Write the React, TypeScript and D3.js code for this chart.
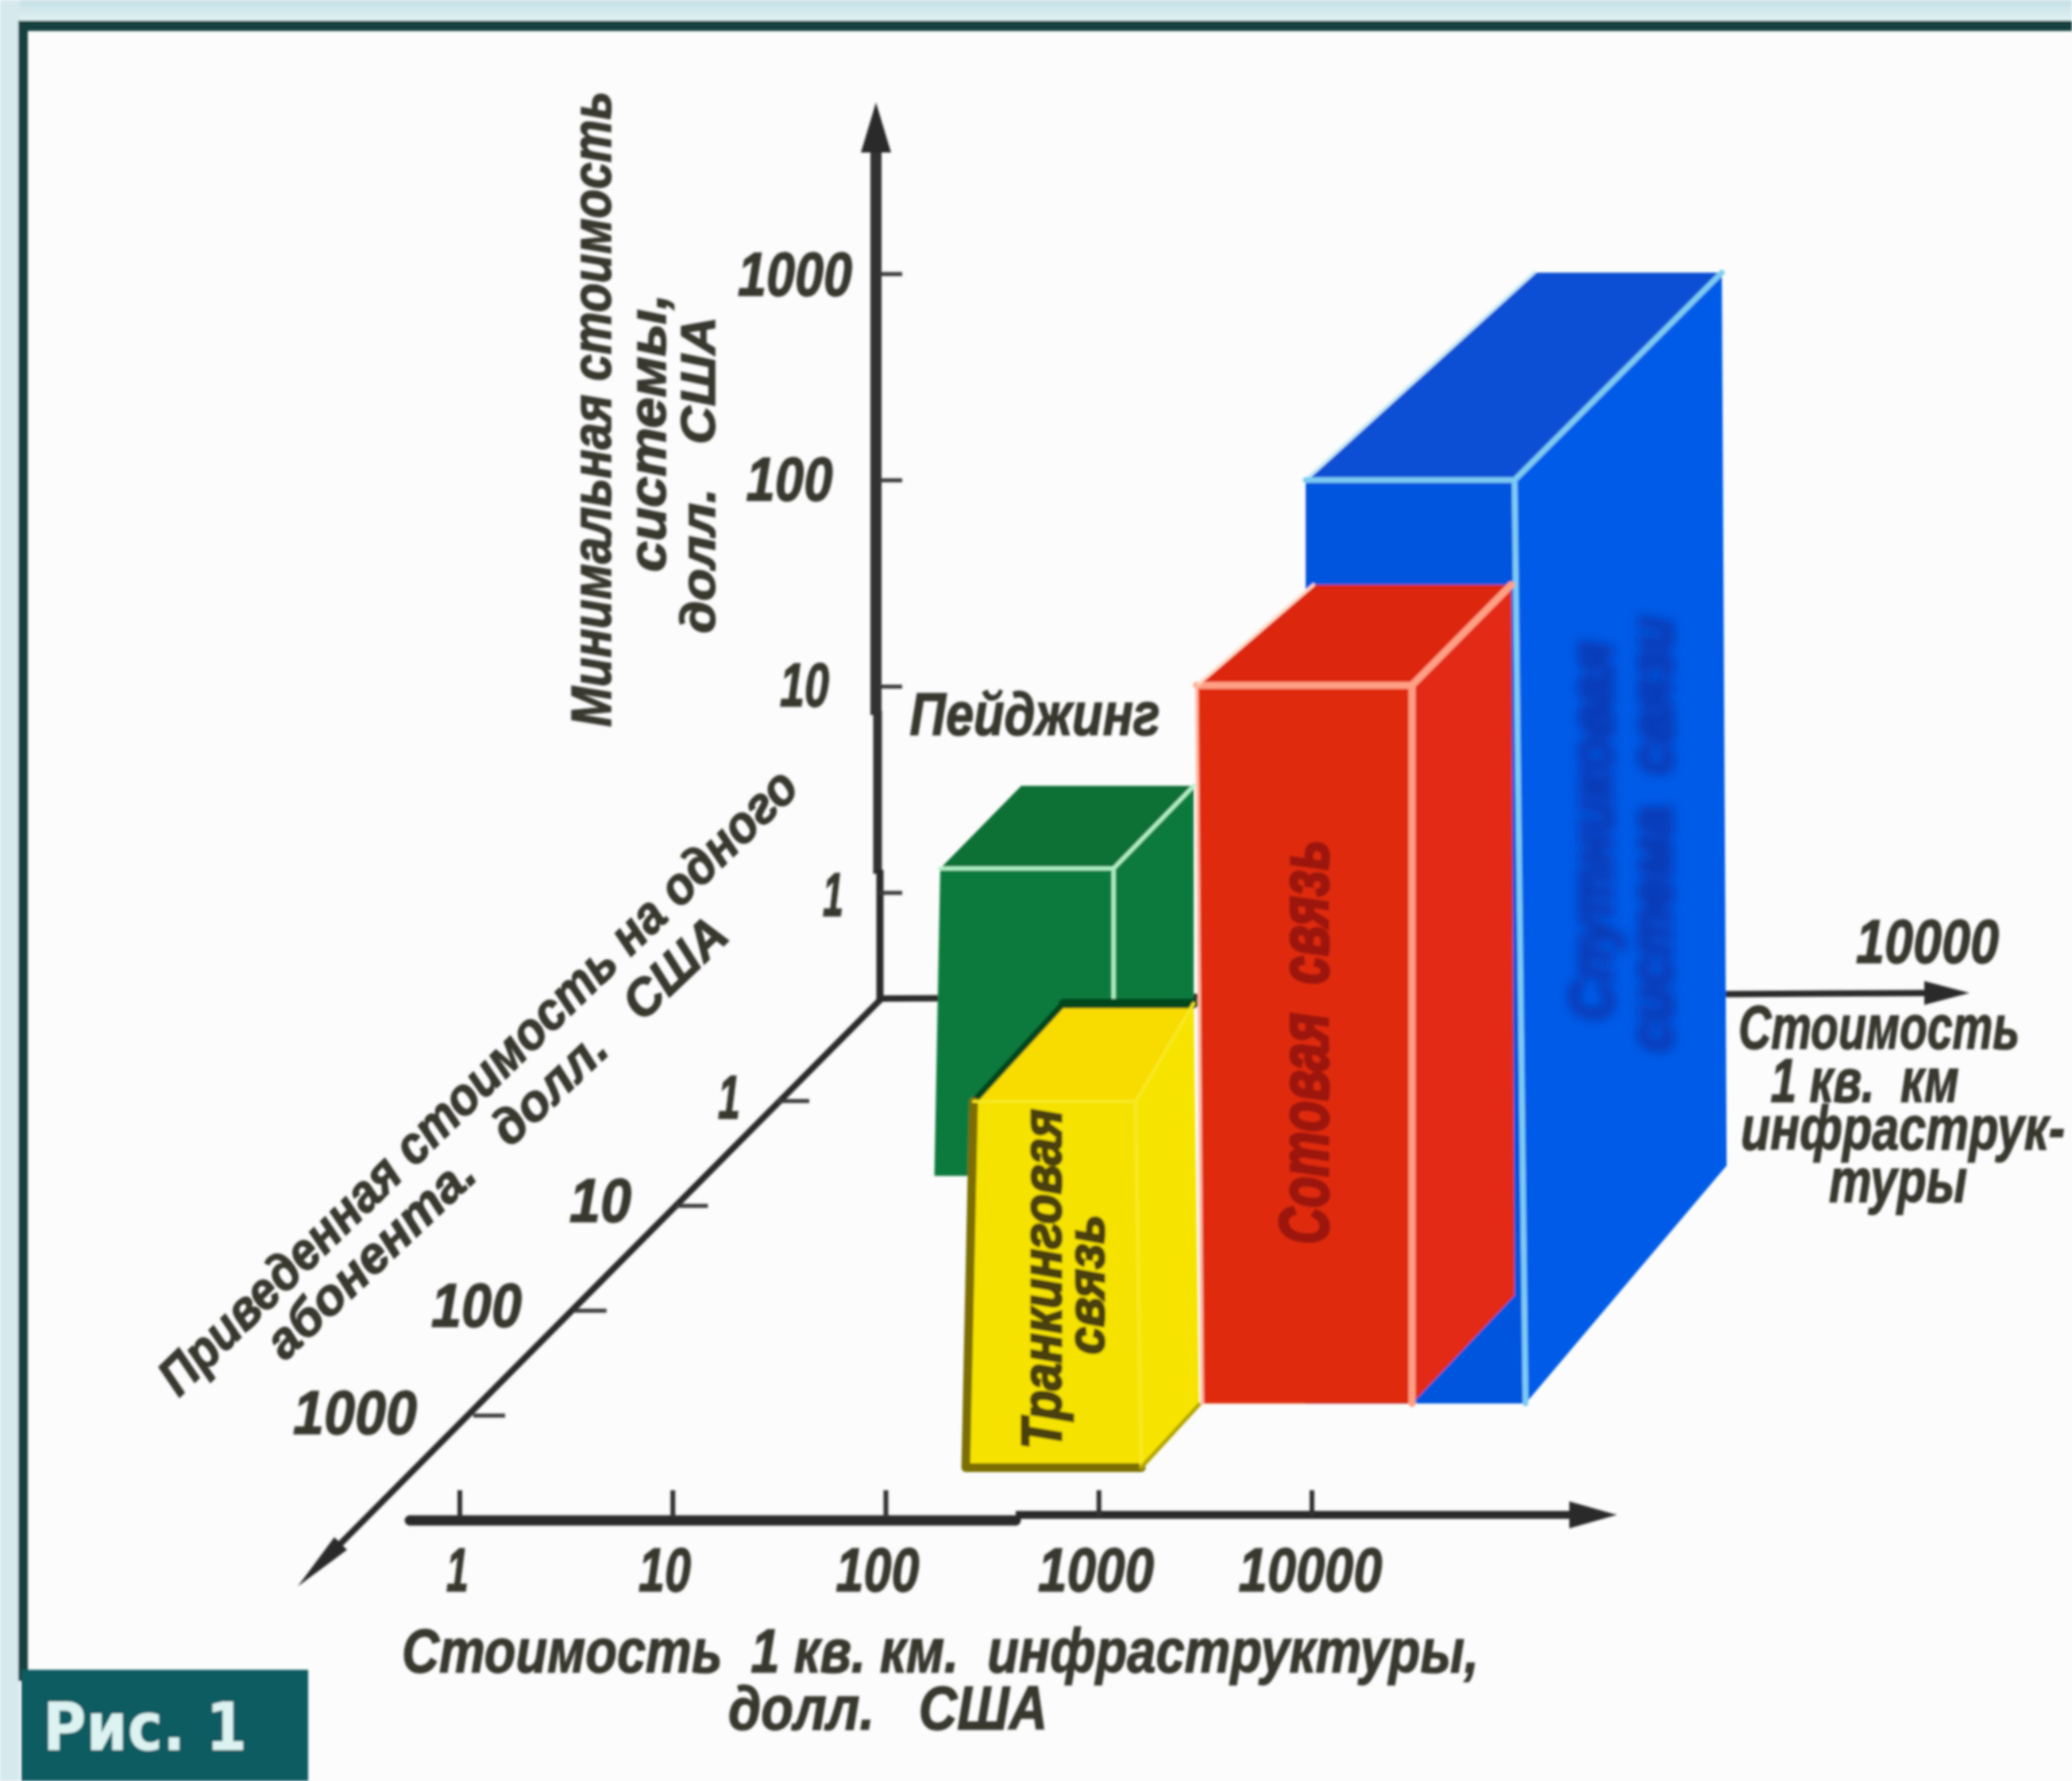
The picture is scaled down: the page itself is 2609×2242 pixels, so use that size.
import React from 'react';
import * as d3 from 'd3';

const W = 2609;
const H = 2242;

// Tick labels of the four axes
const xTicks = [1, 10, 100, 1000, 10000];
const yTicks = [1, 10, 100, 1000];
const zTicks = [1, 10, 100, 1000];

// Values: x = infrastructure cost, y = system cost, z = cost per subscriber
const yFloor = 0.307;
const zOrigin = 0.105;
const zBottomAxis = 10000;

const pagingXFrontTop = [4.9, 31.9];
const pagingXFrontBase = [4.6, 31.9];
const pagingXBackTop = [4.96, 32];
const pagingXBackBase = [4.96, 32];
const pagingYTop = [9.5, 9.5];
const pagingZ = [5.15, 0.84];

const trunkXFrontTop = [148, 853];
const trunkXFrontBase = [136, 906];
const trunkXBackTop = [202, 826];
const trunkXBackBase = [202, 877];
const trunkYTop = [18.3, 27];
const trunkZ = [3110, 780];

const cellXFrontTop = [845, 8650];
const cellXFrontBase = [897, 8650];
const cellXBackTop = [965, 8180];
const cellXBackBase = [965, 8470];
const cellYTop = [930, 855];
const cellZ = [760, 71];

const satXFrontTop = [2740, 26200];
const satXFrontBase = [2740, 29500];
const satXBackTop = [2700, 20500];
const satXBackBase = [2700, 21600];
const satYTop = [9200, 6550];
const satZ = [760, 4.1];

// Scales
const xScale = d3.scaleLog().domain([1, 10000]).range([579, 1652]);
const yScale = d3.scaleLog().domain([1, 1000]).range([1124, 345]);
const depthX = d3.scaleLog().domain([1, 1000]).range([979, 596]);
const depthY = d3.scaleLog().domain([1, 1000]).range([1386, 1782]);

type Pt = [number, number];
const project = (x: number, y: number, z: number): Pt => [
  xScale(x) + depthX(z) - depthX(zBottomAxis),
  yScale(y) + depthY(z) - depthY(zOrigin),
];
const path = (pts: Pt[], close = true) => (d3.line()(pts) || '') + (close ? 'Z' : '');

const makeBox = (xFT: number[], xFB: number[], xBT: number[], xBB: number[], yT: number[], z: number[]) => ({
  FTL: project(xFT[0], yT[0], z[0]),
  FTR: project(xFT[1], yT[0], z[0]),
  FBL: project(xFB[0], yFloor, z[0]),
  FBR: project(xFB[1], yFloor, z[0]),
  BTL: project(xBT[0], yT[1], z[1]),
  BTR: project(xBT[1], yT[1], z[1]),
  BBL: project(xBB[0], yFloor, z[1]),
  BBR: project(xBB[1], yFloor, z[1]),
});

const Box = ({ b, front, top, side }: { b: ReturnType<typeof makeBox>; front: string; top: string; side: string }) => (
  <g>
    <path d={path([b.FTL, b.FTR, b.BTR, b.BTL])} fill={top} />
    <path d={path([b.FTR, b.FBR, b.BBR, b.BTR])} fill={side} />
    <path d={path([b.FTL, b.FTR, b.FBR, b.FBL])} fill={front} />
  </g>
);

const Edges = ({ segs, stroke, width }: { segs: Pt[][]; stroke: string; width: number }) => (
  <g fill="none" stroke={stroke} strokeWidth={width} strokeLinecap="round" strokeLinejoin="round">
    {segs.map((s, i) => (
      <path key={i} d={path(s, false)} />
    ))}
  </g>
);

const FONT = '"Liberation Sans Narrow", "Liberation Sans", sans-serif';
const INK = '#37372f';

const T = ({ x, y, w, children, size = 78, rot, fill = INK, anchor = 'middle', heavy = 1.5 }: any) => (
  <text
    x={rot === undefined ? x : 0}
    y={rot === undefined ? y : 0}
    transform={rot === undefined ? undefined : `translate(${x},${y}) rotate(${rot})`}
    fontFamily={FONT}
    fontStyle="italic"
    fontWeight="bold"
    fontSize={size}
    fill={fill}
    stroke={fill}
    strokeWidth={heavy}
    textAnchor={anchor}
    textLength={w}
    lengthAdjust="spacingAndGlyphs"
  >
    {children}
  </text>
);

export default function App() {
  const sat = makeBox(satXFrontTop, satXFrontBase, satXBackTop, satXBackBase, satYTop, satZ);
  const paging = makeBox(pagingXFrontTop, pagingXFrontBase, pagingXBackTop, pagingXBackBase, pagingYTop, pagingZ);
  const trunk = makeBox(trunkXFrontTop, trunkXFrontBase, trunkXBackTop, trunkXBackBase, trunkYTop, trunkZ);
  const cell = makeBox(cellXFrontTop, cellXFrontBase, cellXBackTop, cellXBackBase, cellYTop, cellZ);
  const origin: Pt = [1110, 1257];

  return (
    <svg width={W} height={H} viewBox={`0 0 ${W} ${H}`} style={{ position: 'absolute', left: 0, top: 0, display: 'block' }}>
      <defs>
        <filter id="soft" x="0" y="0" width="100%" height="100%">
          <feGaussianBlur stdDeviation="1.8" />
        </filter>
        <filter id="softer" x="-30%" y="-30%" width="160%" height="160%">
          <feGaussianBlur stdDeviation="7" />
        </filter>
        <linearGradient id="topband" x1="0" y1="0" x2="0" y2="1">
          <stop offset="0" stopColor="#c4dfe6" />
          <stop offset="1" stopColor="#e2f3f4" />
        </linearGradient>
      </defs>
      <rect width={W} height={H} fill="#fbfcfb" />
      <g filter="url(#soft)">
        <rect x={0} y={0} width={W} height={28} fill="url(#topband)" />
        <rect x={0} y={0} width={25} height={H} fill="#d6e9ed" />
        <rect x={23} y={26} width={W - 23} height={13} fill="#17403f" />
        <rect x={23} y={26} width={12} height={2090} fill="#17403f" />

        {/* Horizontal cost axis, behind the boxes */}
        <line x1={origin[0]} y1={origin[1]} x2={2440} y2={1250} stroke="#2b2b2b" strokeWidth={8} />
        <path d={path([[2480, 1250], [2423, 1235], [2423, 1265]])} fill="#2b2b2b" />

        {/* Vertical axis */}
        <line x1={1103} y1={190} x2={1103} y2={900} stroke="#333" strokeWidth={14} />
        <line x1={1105} y1={895} x2={1105} y2={1100} stroke="#333" strokeWidth={11} />
        <line x1={1108} y1={1095} x2={1108} y2={1260} stroke="#2b2b2b" strokeWidth={9} />
        <path d={path([[1103, 129], [1122, 192], [1084, 192]])} fill="#2b2b2b" />
        {yTicks.map((v) => (
          <line key={v} x1={1108} x2={1136} y1={yScale(v)} y2={yScale(v)} stroke="#3a3a3a" strokeWidth={5} />
        ))}

        {/* Depth axis */}
        <line x1={origin[0]} y1={origin[1]} x2={420} y2={1952} stroke="#2b2b2b" strokeWidth={8} />
        <path d={path([[375, 1997], [437, 1951], [421, 1935]])} fill="#2b2b2b" />
        {zTicks.map((v) => (
          <line key={v} x1={depthX(v)} x2={depthX(v) + 40} y1={depthY(v)} y2={depthY(v)} stroke="#3a3a3a" strokeWidth={5} />
        ))}

        {/* Bottom axis */}
        <line x1={516} y1={1914} x2={1279} y2={1914} stroke="#2a2a2a" strokeWidth={13} strokeLinecap="round" />
        <line x1={1279} y1={1907} x2={1985} y2={1907} stroke="#2a2a2a" strokeWidth={10} />
        <path d={path([[2036, 1907], [1976, 1890], [1976, 1924]])} fill="#2a2a2a" />
        {xTicks.map((v) => (
          <line key={v} x1={xScale(v)} x2={xScale(v)} y1={1876} y2={1910} stroke="#333" strokeWidth={6} />
        ))}

        {/* Boxes, back to front */}
        <Box b={sat} front="#0555de" top="#0750d4" side="#055ce8" />
        <Edges segs={[[sat.BTL, sat.FTL]]} stroke="#c4e8f6" width={4} />
        <Edges segs={[[sat.FTL, sat.FTR], [sat.FTR, sat.BTR], [sat.FTR, sat.FBR]]} stroke="#7ccbf2" width={7} />
        <Box b={paging} front="#0a7a3c" top="#0a7036" side="#0a7a3c" />
        <Edges segs={[[paging.FTL, paging.FTR], [paging.FTR, paging.BTR], [paging.FTR, paging.FBR]]} stroke="#b0f2c6" width={5} />
        <Box b={trunk} front="#f6e200" top="#f8dc00" side="#f6e400" />
        <Edges segs={[[trunk.BTL, trunk.BTR]]} stroke="#06471f" width={12} />
        <Edges segs={[[trunk.FTL, trunk.BTL]]} stroke="#06471f" width={8} />
        <Edges segs={[[trunk.FTL, trunk.FBL, trunk.FBR]]} stroke="#7c6e00" width={11} />
        <Edges segs={[[trunk.FTR, trunk.BTR], [trunk.FTR, trunk.FBR], [trunk.FTL, trunk.FTR]]} stroke="#f8e824" width={4} />
        <Edges segs={[[trunk.FBR, trunk.BBR]]} stroke="#b3a400" width={5} />
        <Box b={cell} front="#e02c0c" top="#dc2810" side="#e22c14" />
        <Edges segs={[[cell.FTL, cell.FTR], [cell.FTR, cell.BTR], [cell.FTR, cell.FBR]]} stroke="#ff9f84" width={9} />
        <Edges segs={[[cell.FTL, cell.BTL]]} stroke="#ffd8c4" width={4} />
        <Edges segs={[[cell.FTL, cell.FBL]]} stroke="#ffb8a0" width={4} />

        {/* Y tick labels */}
        <T x={1001} y={372} w={144}>1000</T>
        <T x={994} y={630} w={109}>100</T>
        <T x={1013} y={889} w={62}>10</T>
        <T x={1049} y={1153} w={26}>1</T>

        {/* Depth tick labels */}
        <T x={918} y={1408} w={28}>1</T>
        <T x={756} y={1538} w={78}>10</T>
        <T x={600} y={1670} w={114}>100</T>
        <T x={447} y={1805} w={156}>1000</T>

        {/* X tick labels */}
        <T x={576} y={2003} w={28}>1</T>
        <T x={837} y={2003} w={66}>10</T>
        <T x={1105} y={2003} w={105}>100</T>
        <T x={1380} y={2003} w={146}>1000</T>
        <T x={1650} y={2003} w={181}>10000</T>

        {/* Axis titles */}
        <T x={1184} y={2105} w={1356}>{'Стоимость\u00A0\u00A01 кв. км.\u00A0\u00A0инфраструктуры,'}</T>
        <T x={1118} y={2177} w={402}>{'долл.\u00A0\u00A0\u00A0США'}</T>

        <T x={769} y={515} w={800} rot={-90} size={70}>Минимальная стоимость</T>
        <T x={838} y={545} w={350} rot={-90} size={66}>системы,</T>
        <T x={900} y={598} w={399} rot={-90} size={62}>{'долл.\u00A0\u00A0\u00A0США'}</T>

        <g transform="translate(606,1366) rotate(-44.3)">
          <T x={0} y={16} w={1095} size={66}>Приведенная стоимость на одного</T>
        </g>
        <g transform="translate(622,1429) rotate(-43.5)">
          <T x={0} y={26} w={775} size={64}>{'абонента.\u00A0\u00A0\u00A0долл.\u00A0\u00A0\u00A0США'}</T>
        </g>

        <T x={2427} y={1212} w={180}>10000</T>
        <T x={2366} y={1320} w={354}>Стоимость</T>
        <T x={2348} y={1387} w={237}>{'1 кв.\u00A0\u00A0км'}</T>
        <T x={2396} y={1447} w={408}>инфраструк-</T>
        <T x={2390} y={1513} w={174}>туры</T>

        {/* Category labels */}
        <T x={1303} y={925} w={315} size={76}>Пейджинг</T>
        <T x={1336} y={1610} w={428} rot={-90} size={70} fill="#4a3f10" heavy={3}>Транкинговая</T>
        <T x={1390} y={1617} w={176} rot={-90} size={66} fill="#4a3f10" heavy={3}>связь</T>
        <T x={1672} y={1312} w={509} rot={-90} size={88} fill="#9c1608" heavy={4}>{'Сотовая\u00A0\u00A0связь'}</T>

        {/* Picture tag */}
        <rect x={27} y={2102} width={361} height={140} fill="#0e5c62" />
        <text x={54} y={2203} fontFamily='"DejaVu Sans", sans-serif' fontWeight="bold" fontSize={84} fill="#dcf3f2" textLength={257} lengthAdjust="spacingAndGlyphs">
          Рис. 1
        </text>
      </g>
      <g filter="url(#softer)" opacity={0.7}>
        <T x={2030} y={1046} w={478} rot={-90} size={76} fill="#0c2a9c" heavy={5}>Спутниковая</T>
        <T x={2105} y={1050} w={548} rot={-90} size={76} fill="#0c2a9c" heavy={5}>{'система\u00A0\u00A0связи'}</T>
      </g>
    </svg>
  );
}
